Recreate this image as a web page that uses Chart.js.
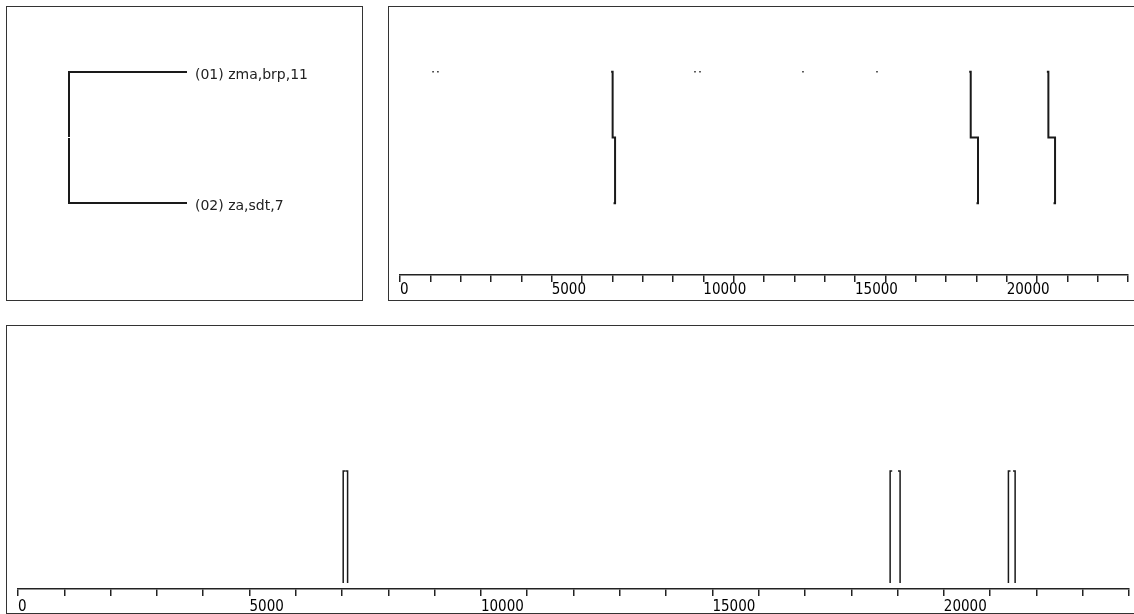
<!DOCTYPE html>
<html lang="en">
<head>
<meta charset="UTF-8" />
<title>Cluster tree and map positions</title>
<script src="https://cdn.jsdelivr.net/npm/chart.js"></script>
<style>
  body { margin: 0; background: #fff; width: 1134px; height: 614px; overflow: hidden; position: relative; }
  .panel { position: absolute; border: 1px solid #333; background: #fff; overflow: hidden; }
  #treePanel { left: 6px; top: 6px; width: 355px; height: 293px; }
  #topPanel { left: 388px; top: 6px; width: 800px; height: 293px; }
  #bottomPanel { left: 6px; top: 325px; width: 1200px; height: 287px; }
  canvas { display: block; }
</style>
</head>
<body>
  <div class="panel" id="treePanel"><canvas id="treeChart" width="355" height="293"></canvas></div>
  <div class="panel" id="topPanel"><canvas id="topChart" width="745" height="293"></canvas></div>
  <div class="panel" id="bottomPanel"><canvas id="bottomChart" width="1127" height="287"></canvas></div>

<script>
  // dendrogram
  const leafLabels = ['(01) zma,brp,11', '(02) za,sdt,7'];
  const treeHeight = 1;

  // shared position axis
  const axisMax = 24000;
  const minorStep = 1000;
  const labeledTicks = [0, 5000, 10000, 15000, 20000];

  // top panel: breaks that step from row 1 to row 2
  const stepStart = [7010, 18815, 21375];
  const stepEnd = [7090, 19055, 21595];
  const topDots = [1090, 1250, 9725, 9890, 13285, 15725];

  // bottom panel: paired marks
  const pairLeft = [7025, 18840, 21395];
  const pairRight = [7120, 19055, 21540];
  const markTop = 1;
  const markBase = 0.05;

  const ink = '#1a1a1a';
  const tickFont = { family: '"DejaVu Sans Condensed", "DejaVu Sans", sans-serif', size: 15, lineHeight: 1 };

  function posAxis(height, pad) {
    return {
      type: 'linear', min: 0, max: axisMax,
      afterBuildTicks: s => {
        s.ticks = [];
        for (let v = 0; v <= axisMax; v += minorStep) s.ticks.push({ value: v });
      },
      afterFit: s => { s.height = height; },
      grid: { display: true, drawOnChartArea: false, drawTicks: true, tickLength: 7, color: '#222', lineWidth: 1.5 },
      border: { display: true, color: '#222', width: 1.5 },
      ticks: {
        autoSkip: false, maxRotation: 0, align: 'start', padding: pad, color: '#000', font: tickFont,
        callback: v => labeledTicks.includes(v) ? String(v) : ''
      }
    };
  }

  const baseOpts = {
    animation: false, responsive: false, events: [],
    plugins: { legend: { display: false }, tooltip: { enabled: false } }
  };

  function lineSet(data, width) {
    return { data, showLine: true, spanGaps: false, pointRadius: 0, borderColor: ink, borderWidth: width, fill: false, clip: false };
  }

  // tree
  new Chart(document.getElementById('treeChart'), {
    type: 'scatter',
    data: {
      datasets: [
        lineSet([{ x: 0, y: 1 }, { x: treeHeight, y: 1 }, { x: treeHeight, y: 1.496 }], 2),
        lineSet([{ x: 0, y: 2 }, { x: treeHeight, y: 2 }, { x: treeHeight, y: 1.504 }], 2)
      ]
    },
    options: {
      ...baseOpts,
      layout: { padding: { left: 62, top: 65, bottom: 97, right: 0 } },
      scales: {
        x: { type: 'linear', display: false, min: 0, max: treeHeight, reverse: true },
        y: {
          type: 'linear', position: 'right', min: 1, max: 2, reverse: true,
          afterBuildTicks: s => { s.ticks = leafLabels.map((_, i) => ({ value: i + 1 })); },
          afterFit: s => { s.width = 175; },
          grid: { display: false, drawTicks: false },
          border: { display: false },
          ticks: {
            padding: 8, labelOffset: 3, color: '#222',
            font: { family: '"DejaVu Sans", sans-serif', size: 14 },
            callback: v => leafLabels[Math.round(v) - 1]
          }
        }
      }
    }
  });

  // top panel
  const stepPath = [];
  stepStart.forEach((s, i) => {
    const e = stepEnd[i];
    stepPath.push({ x: s - 50, y: 1 }, { x: s, y: 1 }, { x: s, y: 1.5 }, { x: e, y: 1.5 },
                  { x: e, y: 2 }, { x: e - 50, y: 2 }, { x: e, y: null });
  });

  new Chart(document.getElementById('topChart'), {
    type: 'scatter',
    data: {
      datasets: [
        lineSet(stepPath, 2),
        { data: topDots.map(x => ({ x, y: 1 })), pointStyle: 'rect', pointRadius: 1, borderWidth: 0,
          backgroundColor: ink, showLine: false }
      ]
    },
    options: {
      ...baseOpts,
      layout: { padding: { left: 11, right: 6, top: 0, bottom: 0 } },
      scales: {
        x: posAxis(25, 1),
        y: { type: 'linear', display: false, min: 0.538, max: 2.545, reverse: true }
      }
    }
  });

  // bottom panel
  const pairPath = [];
  pairLeft.forEach((l, i) => {
    const r = pairRight[i];
    pairPath.push({ x: l, y: markBase }, { x: l, y: markTop }, { x: l + 45, y: markTop }, { x: l, y: null });
    pairPath.push({ x: r, y: markBase }, { x: r, y: markTop }, { x: r - 45, y: markTop }, { x: r, y: null });
  });

  new Chart(document.getElementById('bottomChart'), {
    type: 'scatter',
    data: { datasets: [lineSet(pairPath, 1.5)] },
    options: {
      ...baseOpts,
      layout: { padding: { left: 11, right: 5, top: 0, bottom: 0 } },
      scales: {
        x: posAxis(24, 4),
        y: { type: 'linear', display: false, min: 0, max: 2.23 }
      }
    }
  });
</script>
</body>
</html>
